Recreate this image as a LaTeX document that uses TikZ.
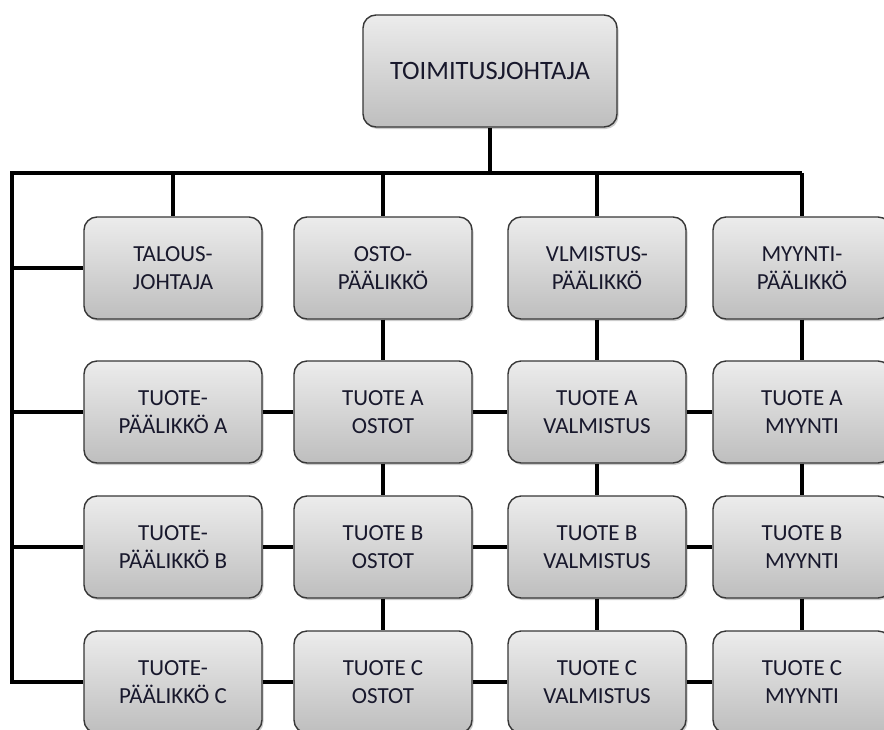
\documentclass[tikz,border=0pt]{standalone}
\usepackage{fontspec}
\setmainfont{Carlito}
\usetikzlibrary{shadows}
\definecolor{boxtop}{RGB}{236,236,236}
\definecolor{boxbot}{RGB}{190,190,190}
\definecolor{boxedge}{RGB}{55,55,55}
\definecolor{ink}{RGB}{24,24,44}
\tikzset{
  orgbox/.style={draw=boxedge, line width=1.4pt, rounded corners=13pt,
    top color=boxtop, bottom color=boxbot,
    minimum width=178pt, minimum height=102pt, align=center,
    text=ink, font=\fontsize{23}{28.5}\selectfont,
    drop shadow={shadow xshift=1.5pt, shadow yshift=-2pt, opacity=0.2, fill=black}},
  headbox/.style={orgbox, minimum width=254pt, minimum height=112pt,
    font=\fontsize{26.5}{32}\selectfont},
  link/.style={line width=3.2pt, black}
}
\begin{document}
\begin{tikzpicture}[x=1pt, y=-1pt]
\useasboundingbox (0,0) rectangle (884,729);
\clip (0,0) rectangle (884,729);
\fill[white] (0,0) rectangle (884,729);

% top of the hierarchy
\node[headbox] (ceo) at (490,71) {TOIMITUSJOHTAJA};

% first row: directors and department heads
\node[orgbox] (c1r1) at (173,268) {TALOUS-\\JOHTAJA};
\node[orgbox] (c2r1) at (383,268) {OSTO-\\PÄÄLIKKÖ};
\node[orgbox] (c3r1) at (597,268) {VLMISTUS-\\PÄÄLIKKÖ};
\node[orgbox] (c4r1) at (802,268) {MYYNTI-\\PÄÄLIKKÖ};

% product A
\node[orgbox] (c1r2) at (173,412) {TUOTE-\\PÄÄLIKKÖ A};
\node[orgbox] (c2r2) at (383,412) {TUOTE A\\OSTOT};
\node[orgbox] (c3r2) at (597,412) {TUOTE A\\VALMISTUS};
\node[orgbox] (c4r2) at (802,412) {TUOTE A\\MYYNTI};

% product B
\node[orgbox] (c1r3) at (173,547) {TUOTE-\\PÄÄLIKKÖ B};
\node[orgbox] (c2r3) at (383,547) {TUOTE B\\OSTOT};
\node[orgbox] (c3r3) at (597,547) {TUOTE B\\VALMISTUS};
\node[orgbox] (c4r3) at (802,547) {TUOTE B\\MYYNTI};

% product C
\node[orgbox] (c1r4) at (173,682) {TUOTE-\\PÄÄLIKKÖ C};
\node[orgbox] (c2r4) at (383,682) {TUOTE C\\OSTOT};
\node[orgbox] (c3r4) at (597,682) {TUOTE C\\VALMISTUS};
\node[orgbox] (c4r4) at (802,682) {TUOTE C\\MYYNTI};

% bus under the managing director
\coordinate (busL) at (12,173);
\coordinate (busR) at (802,173);
\draw[link] (ceo.south) -- (ceo.south |- busL);
\draw[link] (busR) -- (busL) |- (c1r4.west);
\foreach \c in {c1r1,c2r1,c3r1,c4r1}
  \draw[link] (\c.north |- busL) -- (\c.north);
\foreach \c in {c1r1,c1r2,c1r3}
  \draw[link] (\c.west -| busL) -- (\c.west);

% columns
\foreach \col in {c2,c3,c4}{
  \draw[link] (\col r1.south) -- (\col r2.north);
  \draw[link] (\col r2.south) -- (\col r3.north);
  \draw[link] (\col r3.south) -- (\col r4.north);
}

% rows
\foreach \row in {r2,r3,r4}{
  \draw[link] (c1\row.east) -- (c2\row.west);
  \draw[link] (c2\row.east) -- (c3\row.west);
  \draw[link] (c3\row.east) -- (c4\row.west);
}
\end{tikzpicture}
\end{document}
